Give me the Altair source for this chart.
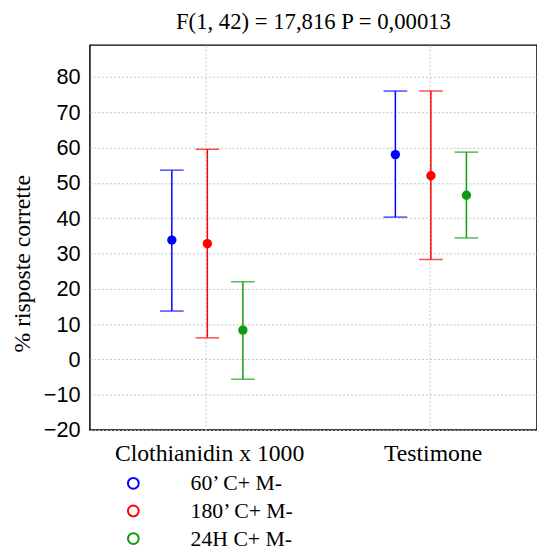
import altair as alt
import pandas as pd

categories = ["Clothianidin x 1000", "Testimone"]
series = ["60\u2019 C+ M-", "180\u2019 C+ M-", "24H C+ M-"]
colors = ["#0000ff", "#ff0000", "#109a10"]

# values per category, in series order
mean_cloth = [33.8, 32.8, 8.3]
low_cloth = [13.7, 6.1, -5.6]
high_cloth = [53.6, 59.5, 22.0]

mean_test = [58.0, 52.0, 46.5]
low_test = [40.3, 28.3, 34.4]
high_test = [76.0, 76.0, 58.7]

rows = []
for cat, means, lows, highs in [
    (categories[0], mean_cloth, low_cloth, high_cloth),
    (categories[1], mean_test, low_test, high_test),
]:
    for s, m, lo, hi in zip(series, means, lows, highs):
        rows.append({"cat": cat, "series": s, "grp": s, "mean": m, "low": lo, "high": hi})
df = pd.DataFrame(rows)

x_enc = alt.X(
    "cat:N",
    sort=categories,
    scale=alt.Scale(paddingInner=0, paddingOuter=0),
    axis=alt.Axis(
        title=None,
        labelAngle=0,
        bandPosition=0.52,
        grid=True,
        gridDash=[2, 2],
        gridColor="#c4c4c4",
        ticks=False,
        domain=False,
        labelFont="Liberation Serif",
        labelFontSize=24,
        labelColor="black",
        labelPadding=12,
        labelLimit=0,
        labelOffset=8,
    ),
)
xo_enc = alt.XOffset(
    "series:N", sort=series,
    scale=alt.Scale(type="point", range=[83, 155], padding=0),
)
y_scale = alt.Scale(domain=[-20, 89], nice=False, zero=False)
y_axis = alt.Axis(
    values=list(range(-20, 90, 10)),
    grid=True,
    gridDash=[2, 2],
    gridColor="#c4c4c4",
    ticks=False,
    domain=False,
    labelOverlap=False,
    labelFont="Liberation Sans",
    labelFontSize=22,
    labelColor="black",
    labelPadding=10,
    title="% risposte corrette",
    titleFont="Liberation Serif",
    titleFontSize=24,
    titleFontWeight="normal",
    titleColor="black",
    titleAngle=-90,
    titleAnchor="middle",
    titleX=-68,
    titleY=221,
    titleBaseline="middle",
    titleAlign="center",
)
color_scale = alt.Scale(domain=series, range=colors)
grp_scale = alt.Scale(range=colors)

base = alt.Chart(df)

rules = base.mark_rule(strokeWidth=1.5).encode(
    x=x_enc,
    xOffset=xo_enc,
    y=alt.Y("low:Q", scale=y_scale, axis=y_axis),
    y2="high:Q",
    color=alt.Color(
        "series:N",
        sort=series,
        scale=color_scale,
        legend=alt.Legend(
            title=None,
            orient="none",
            legendX=33,
            legendY=433,
            symbolType="circle",
            symbolSize=120,
            symbolStrokeWidth=2,
            symbolFillColor="transparent",
            labelFont="Liberation Serif",
            labelFontSize=22,
            labelColor="black",
            labelOffset=47,
            rowPadding=6,
            padding=0,
        ),
    ),
)

caps_hi = base.mark_tick(thickness=1.5, size=24).encode(
    x=x_enc,
    xOffset=xo_enc,
    y=alt.Y("high:Q", scale=y_scale, axis=y_axis),
    fill=alt.Fill("grp:N", sort=series, scale=grp_scale, legend=None),
)
caps_lo = base.mark_tick(thickness=1.5, size=24).encode(
    x=x_enc,
    xOffset=xo_enc,
    y=alt.Y("low:Q", scale=y_scale, axis=y_axis),
    fill=alt.Fill("grp:N", sort=series, scale=grp_scale, legend=None),
)
points = base.mark_point(filled=True, size=90, opacity=1, shape="circle").encode(
    x=x_enc,
    xOffset=xo_enc,
    y=alt.Y("mean:Q", scale=y_scale, axis=y_axis),
    fill=alt.Fill("grp:N", sort=series, scale=grp_scale, legend=None),
)

chart = (
    alt.layer(rules, caps_hi, caps_lo, points)
    .properties(
        width=453,
        height=390,
        padding={"left": 83, "top": 34, "right": 0, "bottom": 124},
        autosize=alt.AutoSizeParams(type="none"),
        title=alt.TitleParams(
            "F(1, 42) = 17,816 P = 0,00013",
            font="Liberation Serif",
            fontSize=23,
            fontWeight="normal",
            color="black",
            anchor="middle",
            offset=11,
        ),
    )
    .configure_view(stroke="black", strokeWidth=1.5)
)

chart.save("out.html", embed_options={"renderer": "svg", "actions": False})
